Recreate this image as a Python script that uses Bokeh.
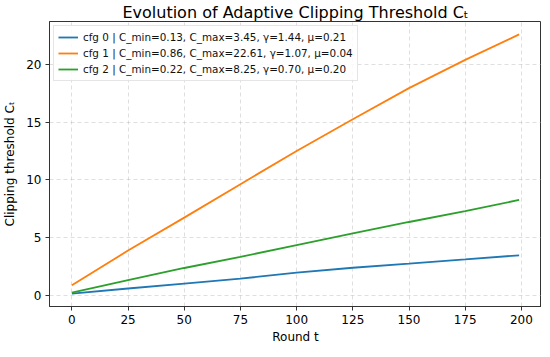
from bokeh.plotting import figure
from bokeh.models import FixedTicker, Range1d, Legend, LegendItem, Title
from bokeh.embed import file_html
from bokeh.resources import INLINE

rounds = [0, 25, 50, 75, 100, 125, 150, 175, 199]
cfg0 = [0.13, 0.57, 1.00, 1.43, 1.94, 2.37, 2.72, 3.09, 3.45]
cfg1 = [0.86, 3.86, 6.72, 9.62, 12.50, 15.25, 17.95, 20.40, 22.61]
cfg2 = [0.22, 1.29, 2.35, 3.32, 4.34, 5.35, 6.34, 7.28, 8.25]
labels = [
    "cfg 0 | C_min=0.13, C_max=3.45, γ=1.44, μ=0.21",
    "cfg 1 | C_min=0.86, C_max=22.61, γ=1.07, μ=0.04",
    "cfg 2 | C_min=0.22, C_max=8.25, γ=0.70, μ=0.20",
]
colors = ["#1f77b4", "#ff7f0e", "#2ca02c"]
x_ticks = [0, 25, 50, 75, 100, 125, 150, 175, 200]
y_ticks = [0, 5, 10, 15, 20]

FONT = "DejaVu Sans"

p = figure(frame_width=492, frame_height=285, output_backend="svg", toolbar_location=None,
           x_range=Range1d(-9.95, 208.95), y_range=Range1d(-0.99, 23.73),
           min_border_left=42, min_border_right=0, min_border_top=0, min_border_bottom=0)

p.title = Title(text="Evolution of Adaptive Clipping Threshold Cₜ", align="center",
                text_font=FONT, text_font_size="16px", text_font_style="normal",
                text_color="#000000", offset=0, standoff=0)

renderers = []
for ys, c in zip([cfg0, cfg1, cfg2], colors):
    r = p.line(rounds, ys, line_color=c, line_width=1.8)
    renderers.append(r)

legend = Legend(items=[LegendItem(label=l, renderers=[r]) for l, r in zip(labels, renderers)],
                location="top_left", label_text_font=FONT, label_text_font_size="10.4px",
                label_text_color="#111111",
                glyph_width=20, glyph_height=14, label_height=14, spacing=2,
                padding=4, margin=4, border_line_color="#cccccc", border_line_width=1,
                background_fill_alpha=0.85, label_standoff=5)
p.add_layout(legend)

for ax in (p.xaxis, p.yaxis):
    ax.major_label_text_font = FONT
    ax.major_label_text_font_size = "12px"
    ax.major_label_text_color = "#000000"
    ax.axis_label_text_font = FONT
    ax.axis_label_text_font_size = "12px"
    ax.axis_label_text_font_style = "normal"
    ax.axis_label_text_color = "#000000"
    ax.axis_line_color = "#333333"
    ax.major_tick_line_color = "#333333"
    ax.major_tick_in = 0
    ax.major_tick_out = 4
    ax.minor_tick_line_color = None

p.xaxis.ticker = FixedTicker(ticks=x_ticks)
p.yaxis.ticker = FixedTicker(ticks=y_ticks)
p.xaxis.axis_label = "Round t"
p.yaxis.axis_label = "Clipping threshold Cₜ"
p.xaxis.major_label_standoff = 4
p.yaxis.major_label_standoff = 4
p.xaxis.axis_label_standoff = 3
p.yaxis.axis_label_standoff = 6

p.grid.grid_line_color = "#b0b0b0"
p.grid.grid_line_alpha = 0.5
p.grid.grid_line_dash = "4 3"
p.grid.grid_line_width = 0.8

p.outline_line_color = "#333333"
p.outline_line_width = 1
p.background_fill_color = "white"
p.border_fill_color = "white"

open("out.html", "w").write(file_html(p, INLINE))
